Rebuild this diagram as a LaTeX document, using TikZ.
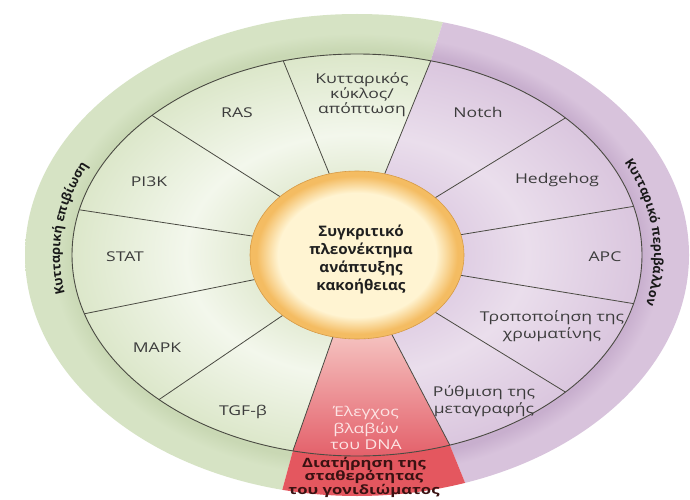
\documentclass[tikz,border=0pt]{standalone}
\usepackage{fontspec}
\setmainfont{Open Sans}
\newfontfamily\labfont[FakeStretch=1.3]{Open Sans}
\newfontfamily\corefont[FakeStretch=1.05]{Open Sans}
\newfontfamily\sidefont{Open Sans}
\usetikzlibrary{decorations.text}
\definecolor{gOut}{HTML}{D6E3C4}
\definecolor{gOutD}{HTML}{C9D8B4}
\definecolor{gIn1}{HTML}{E3EBD4}
\definecolor{gIn2}{HTML}{F3F7EC}
\definecolor{gIn3}{HTML}{DCE7CA}
\definecolor{pOut}{HTML}{D8C3DC}
\definecolor{pOutD}{HTML}{C8AFCE}
\definecolor{pIn1}{HTML}{E0CFE4}
\definecolor{pIn2}{HTML}{EADEEC}
\definecolor{pIn3}{HTML}{DAC6DE}
\definecolor{rTop}{HTML}{F5C2C0}
\definecolor{rBot}{HTML}{E35E68}
\definecolor{rBand}{HTML}{E4575F}
\definecolor{cCore}{HTML}{FFF4D2}
\definecolor{cRim}{HTML}{F4BC62}
\definecolor{cEdge}{HTML}{D69A45}
\definecolor{lineC}{HTML}{4A4A42}
\definecolor{labC}{HTML}{3C3C3C}
\definecolor{dnaC}{HTML}{FDE4E4}
\definecolor{bandTxt}{HTML}{3A1212}
\pgfdeclareradialshading{greenring}{\pgfpoint{0bp}{0bp}}{color(0bp)=(gIn1); color(9.5bp)=(gIn1); color(15bp)=(gIn2); color(25bp)=(gIn3); color(50bp)=(gIn3)}
\pgfdeclareradialshading{purplering}{\pgfpoint{0bp}{0bp}}{color(0bp)=(pIn1); color(9.5bp)=(pIn1); color(15bp)=(pIn2); color(25bp)=(pIn3); color(50bp)=(pIn3)}
\pgfdeclareradialshading{greenout}{\pgfpoint{0bp}{0bp}}{color(0bp)=(gOutD); color(21.4bp)=(gOutD); color(23bp)=(gOut); color(50bp)=(gOut)}
\pgfdeclareradialshading{purpleout}{\pgfpoint{0bp}{0bp}}{color(0bp)=(pOutD); color(21.4bp)=(pOutD); color(23bp)=(pOut); color(50bp)=(pOut)}
\pgfdeclareradialshading{coreshade}{\pgfpoint{0bp}{0bp}}{color(0bp)=(cCore); color(18.5bp)=(cCore); color(23.5bp)=(cRim); color(25bp)=(cRim); color(50bp)=(cRim)}
\tikzset{
  spoke/.style={draw=lineC, line width=0.8pt},
  ringline/.style={draw=lineC, line width=0.9pt},
  lab/.style={text=labC, font=\labfont\fontsize{13.5}{17}\selectfont, align=center, inner sep=0pt},
  core/.style={text=black!88, font=\corefont\bfseries\fontsize{14.5}{18}\selectfont, align=center, inner sep=0pt},
  dna/.style={text=dnaC, font=\labfont\fontsize{13.5}{16.5}\selectfont, align=center, inner sep=0pt},
  band/.style={text=bandTxt, font=\labfont\bfseries\fontsize{12.8}{13.5}\selectfont, align=center, inner sep=0pt}
}
\begin{document}
\begin{tikzpicture}[x=1pt,y=1pt]
\useasboundingbox (0,0) rectangle (690,-500);
\fill[white] (0,0) rectangle (690,-500);
\begin{scope}[shift={(357,-255)}]
  % outer ring: green part
  \begin{scope}
    \clip (75:332 and 241) arc[start angle=75, end angle=257, x radius=332, y radius=241]
      -- (257:285 and 201) arc[start angle=257, end angle=75, x radius=285, y radius=201] -- cycle;
    \shade[shading=greenout] (0,0) ellipse [x radius=332, y radius=241];
  \end{scope}
  % outer ring: purple part
  \begin{scope}
    \clip (289:332 and 241) arc[start angle=289, end angle=435, x radius=332, y radius=241]
      -- (435:285 and 201) arc[start angle=435, end angle=289, x radius=285, y radius=201] -- cycle;
    \shade[shading=purpleout] (0,0) ellipse [x radius=332, y radius=241];
  \end{scope}
  % outer ring: red band
  \fill[rBand] (257:332 and 241) arc[start angle=257, end angle=289, x radius=332, y radius=241]
      -- (289:285 and 201) arc[start angle=289, end angle=257, x radius=285, y radius=201] -- cycle;
  % inner green sectors
  \begin{scope}
    \clip (75:285 and 201) arc[start angle=75, end angle=257, x radius=285, y radius=201]
      -- (257:107 and 84) arc[start angle=257, end angle=75, x radius=107, y radius=84] -- cycle;
    \shade[shading=greenring] (0,0) ellipse [x radius=285, y radius=201];
  \end{scope}
  % inner purple sectors
  \begin{scope}
    \clip (289:285 and 201) arc[start angle=289, end angle=435, x radius=285, y radius=201]
      -- (435:107 and 84) arc[start angle=435, end angle=289, x radius=107, y radius=84] -- cycle;
    \shade[shading=purplering] (0,0) ellipse [x radius=285, y radius=201];
  \end{scope}
  % red sector
  \shade[top color=rTop, bottom color=rBot] (257:107 and 84) -- (257:285 and 201)
      arc[start angle=257, end angle=289, x radius=285, y radius=201]
      -- (289:107 and 84) arc[start angle=289, end angle=257, x radius=107, y radius=84] -- cycle;
  % spokes
  \foreach \a in {14,43,75,105,136,167,197,226,257,289,317,346}
    \draw[spoke] (\a:107 and 84) -- (\a:285 and 201);
  % ring line
  \draw[ringline] (0,0) ellipse [x radius=285, y radius=201];
  % centre
  \shade[shading=coreshade] (0,0) ellipse [x radius=107, y radius=84];
  \draw[cEdge, line width=0.6pt] (0,0) ellipse [x radius=107, y radius=84];
  % side texts
  \path[decorate, decoration={text along path, text align=center,
      text={|\sidefont\bfseries\fontsize{12.8}{14}\selectfont\color{black!90}|Κυτταρική επιβίωση}}]
      (198:297 and 212) arc[start angle=198, end angle=148, x radius=297, y radius=212];
  \path[decorate, decoration={text along path, text align=center,
      text={|\sidefont\bfseries\fontsize{12.8}{14}\selectfont\color{black!90}|Κυτταρικό περιβάλλον}}]
      (31:297 and 212) arc[start angle=31, end angle=-19, x radius=297, y radius=212];
\end{scope}
% labels (image coordinates)
\node[core] (core) at (361,-259) {Συγκριτικό\\πλεονέκτημα\\ανάπτυξης\\κακοήθειας};
\node[lab, font=\labfont\fontsize{13.5}{15}\selectfont] (cycle) at (362,-95) {Κυτταρικός\\κύκλος/\\απόπτωση};
\node[lab] (ras) at (237,-113) {RAS};
\node[lab] (pi3k) at (149,-182) {PI3K};
\node[lab] (stat) at (125,-257) {STAT};
\node[lab] (mapk) at (157,-348) {MAPK};
\node[lab] (tgf) at (243,-412) {TGF-β};
\node[lab] (notch) at (478,-112) {Notch};
\node[lab] (hh) at (557,-180) {Hedgehog};
\node[lab] (apc) at (605,-257) {APC};
\node[lab] (chrom) at (552,-326) {Τροποποίηση της\\χρωματίνης};
\node[lab] (transc) at (484,-401) {Ρύθμιση της\\μεταγραφής};
\node[dna] (dna) at (366,-428) {Έλεγχος\\βλαβών\\του DNA};
\node[band] (genome) at (364,-477) {Διατήρηση της\\σταθερότητας\\του γονιδιώματος};
\end{tikzpicture}
\end{document}
